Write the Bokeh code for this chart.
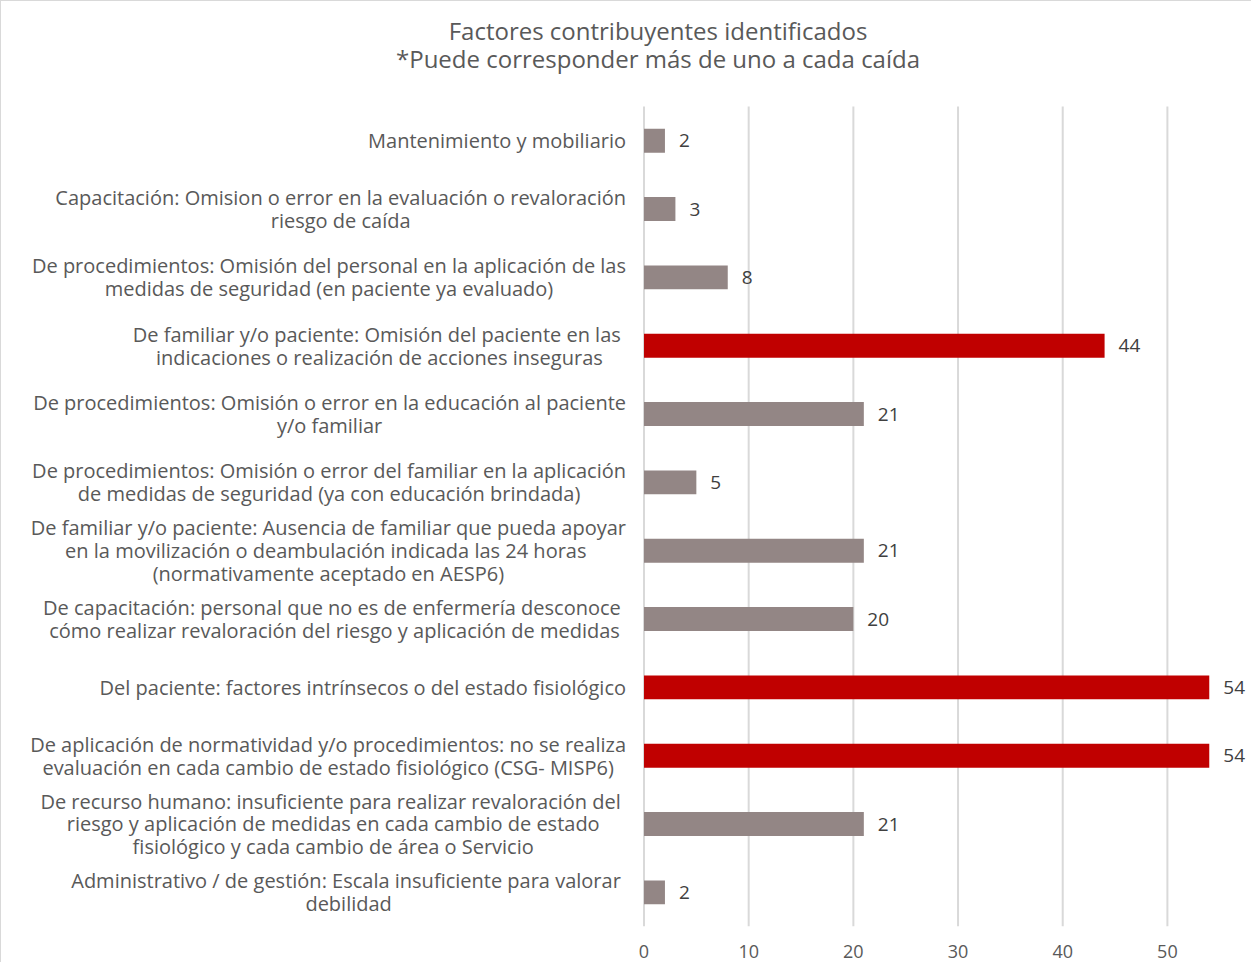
from bokeh.plotting import figure
from bokeh.models import Range1d, FixedTicker, ColumnDataSource
from bokeh.transform import factor_cmap
from bokeh.core.properties import value
from bokeh.embed import file_html
from bokeh.resources import INLINE

title_text = "Factores contribuyentes identificados\n*Puede corresponder más de uno a cada caída"

categories = [
    "Mantenimiento y mobiliario",
    "Capacitación: Omision o error en la evaluación o revaloración\nriesgo de caída",
    "De procedimientos: Omisión del personal en la aplicación de las\nmedidas de seguridad (en paciente ya evaluado)",
    "De familiar y/o paciente:  Omisión del paciente en las\nindicaciones o realización de acciones inseguras",
    "De procedimientos: Omisión o error en la educación al paciente\ny/o familiar",
    "De procedimientos: Omisión o error del familiar en la aplicación\nde medidas de seguridad (ya con educación brindada)",
    "De familiar y/o paciente: Ausencia de familiar que pueda apoyar\nen la movilización o  deambulación indicada las 24 horas\n(normativamente aceptado en AESP6)",
    "De capacitación:  personal que no es de enfermería desconoce\ncómo realizar revaloración del riesgo y aplicación de medidas",
    "Del paciente: factores intrínsecos o del estado fisiológico",
    "De aplicación de normatividad y/o procedimientos: no se realiza\nevaluación en cada cambio de estado fisiológico (CSG- MISP6)",
    "De recurso humano:  insuficiente para realizar revaloración del\nriesgo y aplicación de medidas en cada cambio de estado\nfisiológico y cada cambio de área o Servicio",
    "Administrativo / de gestión: Escala  insuficiente para valorar\ndebilidad",
]
counts = [2, 3, 8, 44, 21, 5, 21, 20, 54, 54, 21, 2]
groups = ["otro", "otro", "otro", "principal", "otro", "otro",
          "otro", "otro", "principal", "principal", "otro", "otro"]
tick_values = [0, 10, 20, 30, 40, 50]

FONT = "Open Sans"
TEXT = "#595959"
VALUE_TEXT = "#404040"
GRAY = "#938685"
RED = "#C00000"
GRID = "#d9d9d9"

n_cat = len(categories)
src = ColumnDataSource(dict(pos=list(range(n_cat)), cat=categories, n=counts,
                            g=groups, lbl=[str(c) for c in counts]))

# first category at the top; extra room above the first slot holds the title
y_top = -0.5
y_bottom = n_cat - 0.5
title_room = 1.538  # in category slots
p = figure(width=1251, height=962,
           y_range=Range1d(y_bottom, y_top - title_room),
           x_range=Range1d(-61.38, 58.13),
           output_backend="svg", toolbar_location=None,
           y_axis_location=None,
           min_border_left=0, min_border_right=0,
           min_border_top=0, min_border_bottom=37,
           styles={"border-top": "1px solid #d9d9d9",
                   "border-left": "1px solid #d9d9d9",
                   "box-sizing": "border-box"})

p.outline_line_color = None
p.background_fill_color = "white"
p.xgrid.visible = False
p.ygrid.visible = False

# vertical gridlines spanning only the bar area
p.segment(x0=tick_values, x1=tick_values,
          y0=[y_bottom] * len(tick_values), y1=[y_top] * len(tick_values),
          line_color=GRID, line_width=2)

p.hbar(y="pos", left=0, right="n", height=0.35, source=src,
       fill_color=factor_cmap("g", [GRAY, RED], ["otro", "principal"]),
       line_color=None)

p.text(x=0, y="pos", text="cat", source=src, x_offset=-18,
       anchor="center_right", text_align="center", text_baseline="middle",
       text_font=value(FONT), text_font_size="20px", text_color=TEXT,
       text_line_height=0.85)

p.text(x="n", y="pos", text="lbl", source=src, x_offset=14,
       text_align="left", text_baseline="middle",
       text_font=value(FONT), text_font_size="19px", text_color=VALUE_TEXT)

# chart title (two centred lines)
p.text(x=[0], y=[y_top], text=[title_text], x_offset=14, y_offset=-62,
       text_align="center", text_baseline="middle",
       text_font=value(FONT), text_font_size="24px", text_color=TEXT,
       text_line_height=0.83)

p.xaxis.ticker = FixedTicker(ticks=tick_values)
p.xaxis.axis_line_color = None
p.xaxis.major_tick_line_color = None
p.xaxis.minor_tick_line_color = None
p.xaxis.major_label_standoff = 12
p.xaxis.major_label_text_font = FONT
p.xaxis.major_label_text_font_size = "18px"
p.xaxis.major_label_text_color = TEXT

open("out.html", "w").write(file_html(p, INLINE))
